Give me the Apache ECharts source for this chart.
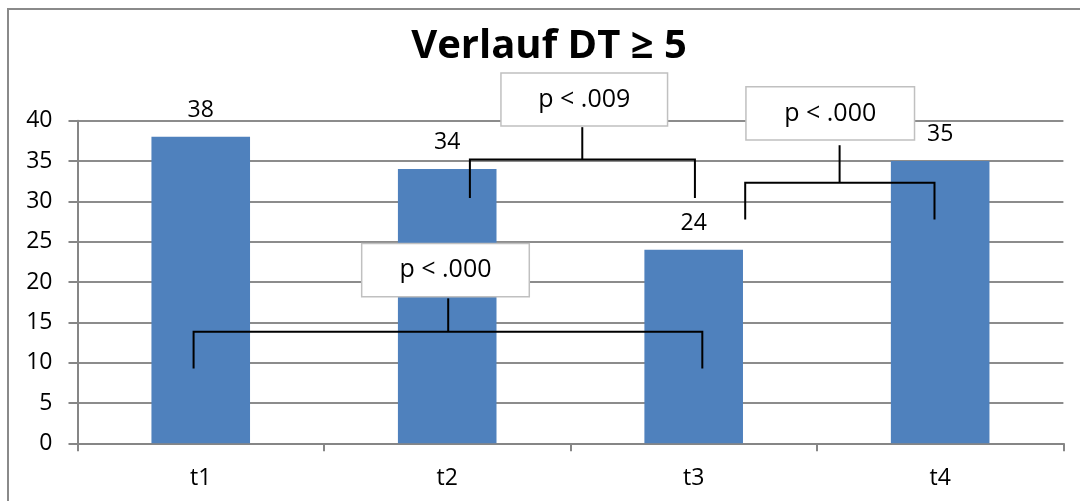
<!DOCTYPE html>
<html>
<head>
<meta charset="utf-8">
<script src="https://cdn.jsdelivr.net/npm/echarts@6/dist/echarts.min.js"></script>
<style>
html,body{margin:0;padding:0;background:#fff;}
#chart{width:1080px;height:501px;}
</style>
</head>
<body>
<div id="chart"></div>
<script>
// ---- data ----
const categories = ['t1', 't2', 't3', 't4'];
const values = [38, 34, 24, 35];
const yMin = 0, yMax = 40, yInterval = 5;
const titleText = 'Verlauf DT \u2265 5';

// significance brackets (x in category units, y in value units)
const bracketLabels = ['p < .009', 'p < .000', 'p < .000'];
const bracketFrom   = [1.092, 2.209, -0.029];
const bracketTo     = [2.005, 2.977, 2.035];
const bracketStemAt = [1.548, 2.592, 1.004];
const bracketLevel  = [35.2, 32.3, 13.83];
const bracketLegEnd = [30.4, 27.76, 9.29];
const bracketStemTop= [39.2, 36.96, 17.97];
const labelBoxFrom  = [1.218, 2.212, 0.653];
const labelBoxTo    = [1.894, 2.896, 1.333];
const labelBoxTop   = [45.9, 44.2, 24.78];
const labelBoxBottom= [39.35, 37.6, 18.17];

const FONT = 'Open Sans';
const chart = echarts.init(document.getElementById('chart'), null, {renderer: 'canvas'});

chart.setOption({
  animation: false,
  backgroundColor: '#fff',
  title: {
    text: titleText,
    left: 544,
    textAlign: 'center',
    top: 22,
    textStyle: {fontFamily: FONT, fontWeight: 'bold', fontSize: 40, color: '#000'}
  },
  grid: {left: 77.5, right: 16.6, top: 120.7, bottom: 57.7, containLabel: false},
  xAxis: {
    type: 'category',
    data: categories,
    axisLine: {lineStyle: {color: '#868686', width: 2}},
    axisTick: {show: true, length: 8, lineStyle: {color: '#868686', width: 2}},
    axisLabel: {fontFamily: FONT, fontSize: 23, color: '#000', margin: 24}
  },
  yAxis: {
    type: 'value',
    min: yMin, max: yMax, interval: yInterval,
    axisLine: {show: true, lineStyle: {color: '#868686', width: 2}},
    axisTick: {show: true, length: 9, lineStyle: {color: '#868686', width: 2}},
    splitLine: {lineStyle: {color: '#8c8c8c', width: 2}},
    axisLabel: {fontFamily: FONT, fontSize: 23, color: '#000', margin: 25}
  },
  series: [{
    type: 'bar',
    data: values,
    barWidth: '40%',
    itemStyle: {color: '#4F81BD'},
    label: {show: true, position: 'top', distance: 15, fontFamily: FONT, fontSize: 23, color: '#000'},
    z: 2
  }]
});

function xPix(idx) {
  const c0 = chart.convertToPixel({xAxisIndex: 0}, 0);
  const c1 = chart.convertToPixel({xAxisIndex: 0}, 1);
  return c0 + idx * (c1 - c0);
}
function yPix(v) { return chart.convertToPixel({yAxisIndex: 0}, v); }

const graphics = [];
// outer chart-area border
graphics.push({
  type: 'rect', silent: true, z: 0,
  shape: {x: 8, y: 9, width: 1200, height: 1200},
  style: {fill: 'none', stroke: '#8a8a8a', lineWidth: 2}
});
for (let i = 0; i < bracketLabels.length; i++) {
  const xl = xPix(bracketFrom[i]), xr = xPix(bracketTo[i]), xs = xPix(bracketStemAt[i]);
  const yl = yPix(bracketLevel[i]), ye = yPix(bracketLegEnd[i]), yt = yPix(bracketStemTop[i]);
  graphics.push({
    type: 'polyline', silent: true, z: 10,
    shape: {points: [[xl, ye], [xl, yl], [xr, yl], [xr, ye]]},
    style: {stroke: '#000', lineWidth: 2, fill: 'none'}
  });
  graphics.push({
    type: 'line', silent: true, z: 10,
    shape: {x1: xs, y1: yl, x2: xs, y2: yt},
    style: {stroke: '#000', lineWidth: 2}
  });
  const bx = xPix(labelBoxFrom[i]), bx2 = xPix(labelBoxTo[i]);
  const by = yPix(labelBoxTop[i]), by2 = yPix(labelBoxBottom[i]);
  graphics.push({
    type: 'rect', silent: true, z: 11,
    shape: {x: bx, y: by, width: bx2 - bx, height: by2 - by},
    style: {fill: '#fff', stroke: '#c0c0c0', lineWidth: 1.5}
  });
  graphics.push({
    type: 'text', silent: true, z: 12,
    x: (bx + bx2) / 2, y: (by + by2) / 2,
    style: {text: bracketLabels[i], fontFamily: FONT, fontSize: 25, fill: '#000',
            align: 'center', verticalAlign: 'middle'}
  });
}
chart.setOption({graphic: graphics});
</script>
</body>
</html>
